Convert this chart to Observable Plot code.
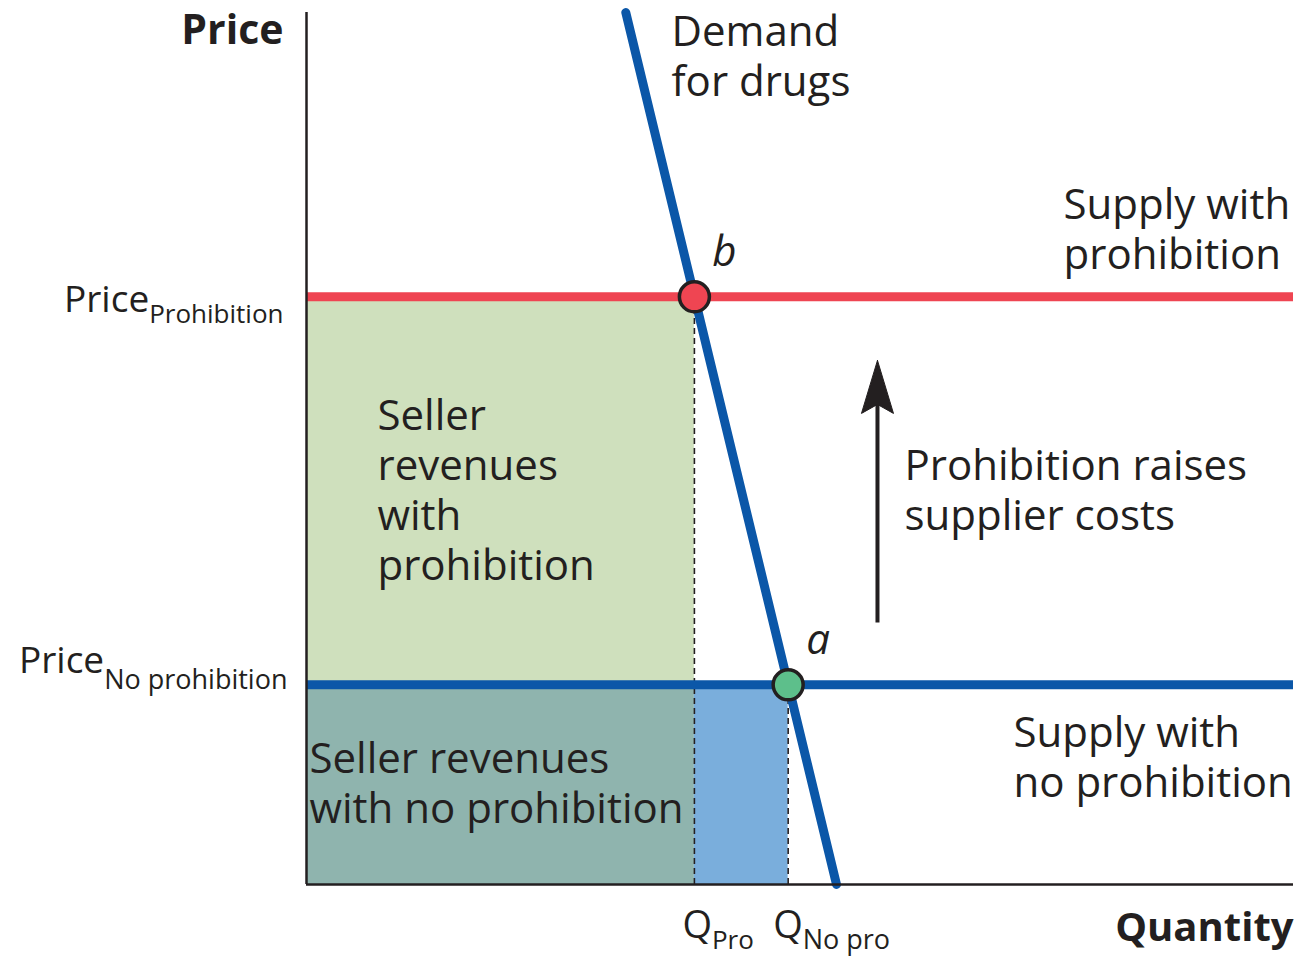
<!DOCTYPE html>
<html><head><meta charset="utf-8">
<script src="https://cdn.jsdelivr.net/npm/d3@7"></script>
<script src="https://cdn.jsdelivr.net/npm/@observablehq/plot@0.6"></script>
<style>body{margin:0;background:#fff} #chart svg{display:block}</style>
</head><body><div id="chart"></div>
<script>
// ---- data (quantity and price in arbitrary 0–100 units) ----
const qNames = ["Pro", "No pro"];
const qValues = [39.3, 48.8];
const priceNames = ["Prohibition", "No prohibition"];
const priceValues = [67.4, 22.9];
const demandQ = [32.35, 53.7];
const demandP = [100, 0];
const pointNames = ["b", "a"];
const arrowQ = 57.85;
const arrowP = [30.0, 60.1];

// ---- layout ----
const W = 1303, H = 957;
const mL = 306, mR = 10, mT = 12, mB = 73;
const ux = 100 / (W - mL - mR), uy = 100 / (H - mT - mB); // data units per pixel
const ink = "#231f20";
const font = "'Open Sans', Lato, sans-serif";
const big = 42;

const demand = demandQ.map((q, i) => ({q, p: demandP[i]}));
const points = qValues.map((q, i) => ({q, p: priceValues[i], name: pointNames[i]}));
const head = [
  {q: arrowQ, p: arrowP[1]},
  {q: arrowQ - 16 * ux, p: arrowP[1] - 53 * uy},
  {q: arrowQ, p: arrowP[1] - 44 * uy},
  {q: arrowQ + 16 * ux, p: arrowP[1] - 53 * uy},
  {q: arrowQ, p: arrowP[1]}
];

const txt = (text, q, p, o = {}) => Plot.text([text], {x: q, y: p, text: d => d, textAnchor: "start", lineAnchor: "middle", fontSize: big, lineHeight: 50 / big, fill: ink, ...o});

const plot = Plot.plot({
  width: W, height: H,
  marginLeft: mL, marginRight: mR, marginTop: mT, marginBottom: mB,
  x: {domain: [0, 100], axis: null},
  y: {domain: [0, 100], axis: null},
  style: {fontFamily: font, background: "#fff", overflow: "visible"},
  marks: [
    // revenue areas
    Plot.rect([0], {x1: 0, x2: qValues[0], y1: priceValues[1], y2: priceValues[0], fill: "#cfe0bd"}),
    Plot.rect([0], {x1: 0, x2: qValues[0], y1: 0, y2: priceValues[1], fill: "#8fb4ae"}),
    Plot.rect([0], {x1: qValues[0], x2: qValues[1], y1: 0, y2: priceValues[1], fill: "#7aaedc"}),
    // dashed drop lines
    Plot.ruleX(points, {x: "q", y1: 0, y2: "p", stroke: ink, strokeWidth: 1.6, strokeDasharray: "6,4"}),
    // supply lines
    Plot.ruleY([priceValues[0]], {x1: 0, x2: 100, stroke: "#ef4552", strokeWidth: 9}),
    Plot.ruleY([priceValues[1]], {x1: 0, x2: 100, stroke: "#0b57a8", strokeWidth: 9}),
    // demand
    Plot.line(demand, {x: "q", y: "p", stroke: "#0b57a8", strokeWidth: 9}),
    // axes
    Plot.ruleX([0], {y1: 0, y2: 100, stroke: ink, strokeWidth: 2.5}),
    Plot.ruleY([0], {x1: 0, x2: 100, stroke: ink, strokeWidth: 2.5}),
    // equilibrium dots
    Plot.dot(points, {x: "q", y: "p", r: 15, fill: (d, i) => i === 0 ? "#ef4552" : "#5dbf8b", stroke: ink, strokeWidth: 3.5}),
    // arrow
    Plot.ruleX([arrowQ], {y1: arrowP[0], y2: arrowP[1] - 44 * uy, stroke: ink, strokeWidth: 4}),
    Plot.line(head, {x: "q", y: "p", fill: ink, stroke: ink, strokeWidth: 1}),
    // axis titles
    Plot.text(["Price"], {frameAnchor: "top-left", textAnchor: "end", lineAnchor: "middle", dx: -23, dy: 18, fontSize: 41, fontWeight: "bold", fill: ink}),
    Plot.text(["Quantity"], {frameAnchor: "bottom-right", textAnchor: "end", lineAnchor: "middle", dy: 44, fontSize: 40, fontWeight: "bold", fill: ink}),
    // price labels (subscripts added below)
    Plot.text([0], {x: 0, y: priceValues[0], text: () => "@sub-p0", textAnchor: "end", lineAnchor: "middle", dx: -23, dy: 3, fontSize: 37, fill: ink}),
    Plot.text([1], {x: 0, y: priceValues[1], text: () => "@sub-p1", textAnchor: "end", lineAnchor: "middle", dx: -19, dy: -24, fontSize: 37, fill: ink}),
    // quantity labels
    Plot.text([0], {x: qValues[0], y: 0, text: () => "@sub-q0", textAnchor: "start", lineAnchor: "middle", dx: -12, dy: 41.5, fontSize: 38, fill: ink}),
    Plot.text([1], {x: qValues[1], y: 0, text: () => "@sub-q1", textAnchor: "start", lineAnchor: "middle", dx: -15, dy: 41.5, fontSize: 38, fill: ink}),
    // point labels
    Plot.text(points, {x: "q", y: "p", text: "name", fontSize: big, fontStyle: "italic", fill: ink, textAnchor: "middle", lineAnchor: "middle", dx: 30, dy: -44}),
    // annotations
    txt("Demand\nfor drugs", 36.98, 95.07),
    txt("Supply with\nprohibition", 76.7, 75.23),
    txt("Prohibition raises\nsupplier costs", 60.59, 45.36),
    txt("Supply with\nno prohibition", 71.63, 14.68),
    txt("Seller\nrevenues\nwith\nprohibition", 7.19, 45.3),
    txt("Seller revenues\nwith no prohibition", 0.3, 11.7)
  ]
});

// subscripted labels: main text + lowered smaller tspan
const subs = {
  "@sub-p0": ["Price", priceNames[0], 11, 26],
  "@sub-p1": ["Price", priceNames[1], 16, 27],
  "@sub-q0": ["Q", qNames[0], 11, 26],
  "@sub-q1": ["Q", qNames[1], 11, 27]
};
d3.select(plot).selectAll("text").each(function () {
  const s = subs[this.textContent];
  if (!s) return;
  const el = d3.select(this);
  el.text(s[0]);
  el.append("tspan").attr("dy", s[2]).attr("font-size", s[3]).text(s[1]);
});

document.getElementById("chart").append(plot);
</script>
</body></html>
